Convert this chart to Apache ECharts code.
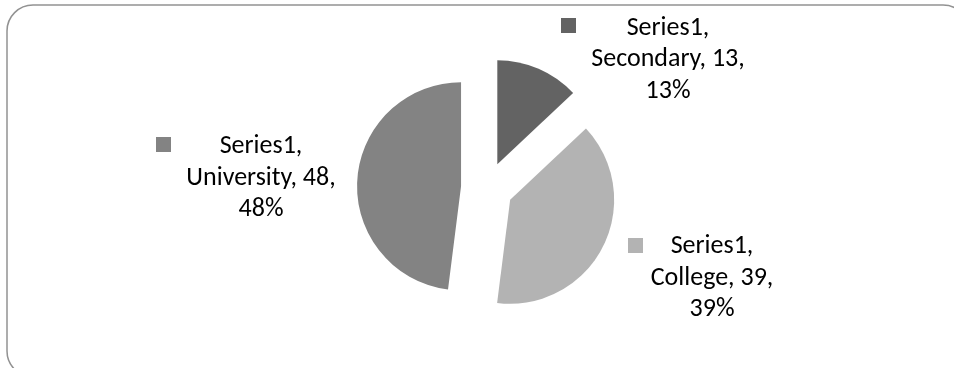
<!DOCTYPE html>
<html>
<head>
<meta charset="utf-8">
<script src="https://cdn.jsdelivr.net/npm/echarts@6/dist/echarts.min.js"></script>
<style>
  html, body { margin: 0; padding: 0; background: #fff; }
  #chart { width: 954px; height: 368px; }
</style>
</head>
<body>
<div id="chart"></div>
<script>
// Education level breakdown
const seriesName = 'Series1';
const categories = ['Secondary', 'College', 'University'];
const values = [13, 39, 48];

// Slice fills, in category order
const sliceColors = ['#636363', '#b3b3b3', '#838383'];
// Data-label placement: text block centre and legend-key top-left corner
const labelSpots = [
  { cx: 668, cy: 59.5, kx: 561, ky: 18 },
  { cx: 712, cy: 278, kx: 628, ky: 238 },
  { cx: 261, cy: 178, kx: 156, ky: 137 }
];

const FONT = 'Calibri, Carlito, "Liberation Sans", Arial, sans-serif';
const total = values.reduce((a, b) => a + b, 0);

// Data labels: "series, category, value, percent" with a colour key
const labelGraphics = [];
categories.forEach((name, i) => {
  const s = labelSpots[i];
  const pct = Math.round(values[i] / total * 100);
  labelGraphics.push({
    type: 'rect',
    silent: true,
    shape: { x: s.kx, y: s.ky, width: 15, height: 15 },
    style: { fill: sliceColors[i] },
    z: 10
  });
  labelGraphics.push({
    type: 'text',
    silent: true,
    x: s.cx,
    y: s.cy,
    style: {
      text: seriesName + ',\n' + name + ', ' + values[i] + ',\n' + pct + '%',
      fontFamily: FONT,
      fontSize: 26,
      lineHeight: 31.5,
      fill: '#000',
      align: 'center',
      verticalAlign: 'middle'
    },
    z: 10
  });
});

const chart = echarts.init(document.getElementById('chart'), null, { renderer: 'canvas' });

chart.setOption({
  animation: false,
  backgroundColor: '#ffffff',
  graphic: [{
    type: 'rect',
    silent: true,
    shape: { x: 7, y: 5, width: 962, height: 372, r: 26 },
    style: { fill: 'none', stroke: '#929292', lineWidth: 1.5 },
    z: -1
  }].concat(labelGraphics),
  series: [{
    name: seriesName,
    type: 'pie',
    center: [487, 188],
    radius: [0, 104],
    startAngle: 90,
    clockwise: true,
    selectedMode: 'multiple',
    selectedOffset: 26,
    emphasis: { disabled: true },
    itemStyle: { borderWidth: 0 },
    label: { show: false },
    labelLine: { show: false },
    data: categories.map((name, i) => ({
      name: name,
      value: values[i],
      selected: true,
      itemStyle: { color: sliceColors[i] }
    }))
  }]
});
</script>
</body>
</html>
